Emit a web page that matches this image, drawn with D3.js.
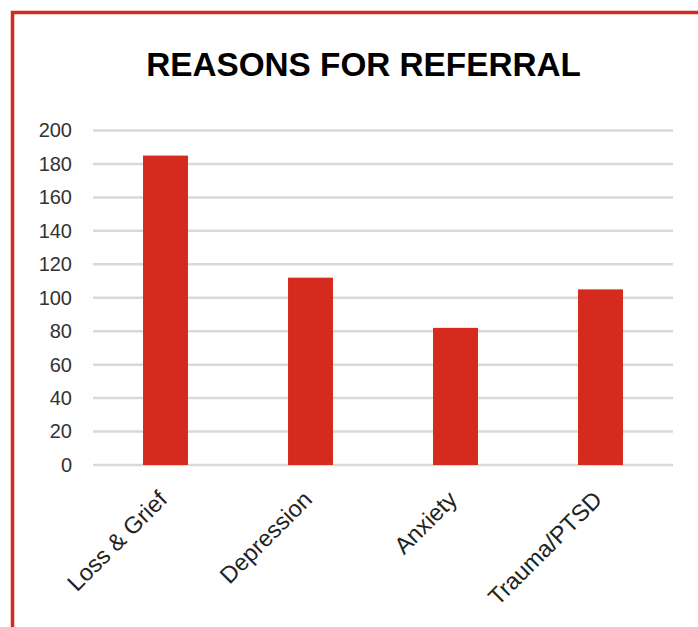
<!DOCTYPE html>
<html>
<head>
<meta charset="utf-8">
<script src="https://cdn.jsdelivr.net/npm/d3@7"></script>
<style>
  html, body { margin: 0; padding: 0; background: #fff; }
  svg { display: block; }
</style>
</head>
<body>
<div id="chart"></div>
<script>
const title = "REASONS FOR REFERRAL";
const categories = ["Loss & Grief", "Depression", "Anxiety", "Trauma/PTSD"];
const values = [185, 112, 82, 105];
const yTicks = [0, 20, 40, 60, 80, 100, 120, 140, 160, 180, 200];

const W = 698, H = 627;
const svg = d3.select("#chart").append("svg").attr("width", W).attr("height", H);

// frame border
svg.append("rect")
  .attr("x", 12.5).attr("y", 12.5)
  .attr("width", W + 20).attr("height", H + 20)
  .attr("fill", "none").attr("stroke", "#d42b1f").attr("stroke-width", 3.5);

svg.append("text")
  .attr("x", 363.5).attr("y", 76)
  .attr("text-anchor", "middle")
  .attr("font-family", "Liberation Sans, Arial, sans-serif")
  .attr("font-weight", "bold")
  .attr("font-size", 33.3)
  .attr("fill", "#000")
  .text(title);

const x = d3.scaleBand().domain(categories).range([93, 673]).paddingInner(0.69).paddingOuter(0.345);
const y = d3.scaleLinear().domain([0, 200]).range([465, 130.5]);

// gridlines
svg.append("g").selectAll("line").data(yTicks).join("line")
  .attr("x1", 93).attr("x2", 673)
  .attr("y1", d => y(d)).attr("y2", d => y(d))
  .attr("stroke", "#d9d9d9").attr("stroke-width", 2.5);

// y axis labels
const yAxis = d3.axisLeft(y).tickValues(yTicks).tickSize(0).tickPadding(0);
const gy = svg.append("g").attr("transform", "translate(72,0)").call(yAxis);
gy.select(".domain").remove();
gy.selectAll("text")
  .attr("font-family", "Liberation Sans, Arial, sans-serif")
  .attr("font-size", 20).attr("fill", "#333");

// bars
svg.append("g").selectAll("rect").data(values).join("rect")
  .attr("x", (d, i) => x(categories[i]))
  .attr("width", x.bandwidth())
  .attr("y", d => y(d))
  .attr("height", d => y(0) - y(d))
  .attr("fill", "#d52b1e");

// x labels
const xAxis = d3.axisBottom(x).tickSize(0).tickPadding(0);
const gx = svg.append("g").call(xAxis);
gx.select(".domain").remove();
gx.selectAll(".tick").attr("transform", d => `translate(${x(d) + x.bandwidth() / 2 + 3},501)`);
gx.selectAll("text")
  .attr("y", 0).attr("dy", 0)
  .attr("transform", "rotate(-45)")
  .attr("text-anchor", "end")
  .attr("font-family", "Liberation Sans, Arial, sans-serif")
  .attr("font-size", 23.5).attr("fill", "#222");
</script>
</body>
</html>
